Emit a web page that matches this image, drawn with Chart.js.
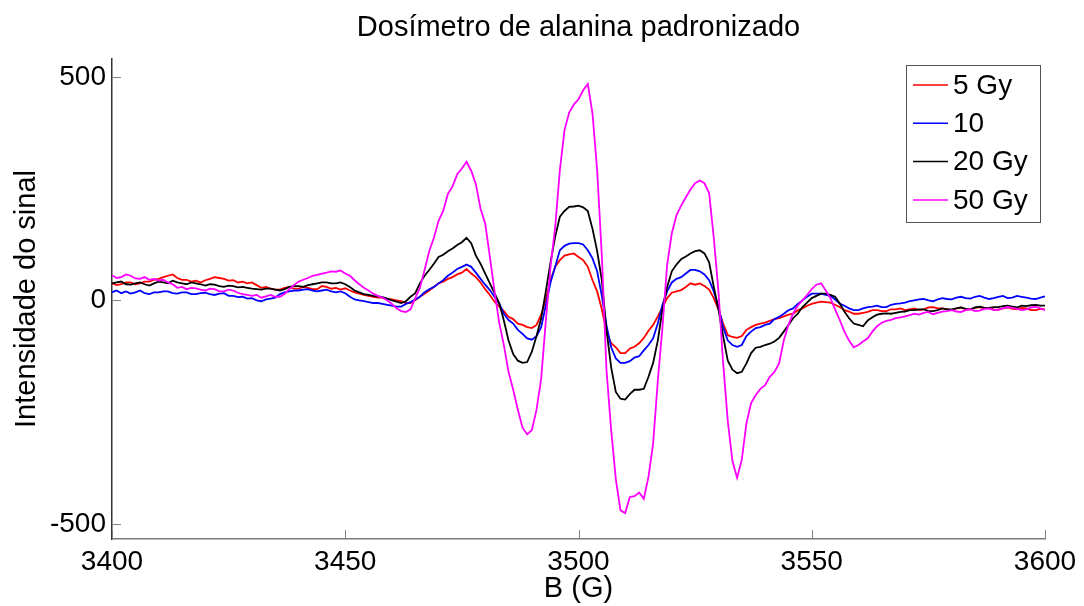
<!DOCTYPE html>
<html>
<head>
<meta charset="utf-8">
<script src="https://cdn.jsdelivr.net/npm/chart.js@4/dist/chart.umd.min.js"></script>
<style>
  html, body { margin: 0; padding: 0; background: #fff; }
  #wrap { width: 1084px; height: 606px; }
</style>
</head>
<body>
<div id="wrap"><canvas id="epr" width="1084" height="606"></canvas></div>
<script>
// EPR spectra of the alanine dosimeter (1 G steps)
const field = [
  3400, 3401, 3402, 3403, 3404, 3405, 3406, 3407, 3408, 3409,
  3410, 3411, 3412, 3413, 3414, 3415, 3416, 3417, 3418, 3419,
  3420, 3421, 3422, 3423, 3424, 3425, 3426, 3427, 3428, 3429,
  3430, 3431, 3432, 3433, 3434, 3435, 3436, 3437, 3438, 3439,
  3440, 3441, 3442, 3443, 3444, 3445, 3446, 3447, 3448, 3449,
  3450, 3451, 3452, 3453, 3454, 3455, 3456, 3457, 3458, 3459,
  3460, 3461, 3462, 3463, 3464, 3465, 3466, 3467, 3468, 3469,
  3470, 3471, 3472, 3473, 3474, 3475, 3476, 3477, 3478, 3479,
  3480, 3481, 3482, 3483, 3484, 3485, 3486, 3487, 3488, 3489,
  3490, 3491, 3492, 3493, 3494, 3495, 3496, 3497, 3498, 3499,
  3500, 3501, 3502, 3503, 3504, 3505, 3506, 3507, 3508, 3509,
  3510, 3511, 3512, 3513, 3514, 3515, 3516, 3517, 3518, 3519,
  3520, 3521, 3522, 3523, 3524, 3525, 3526, 3527, 3528, 3529,
  3530, 3531, 3532, 3533, 3534, 3535, 3536, 3537, 3538, 3539,
  3540, 3541, 3542, 3543, 3544, 3545, 3546, 3547, 3548, 3549,
  3550, 3551, 3552, 3553, 3554, 3555, 3556, 3557, 3558, 3559,
  3560, 3561, 3562, 3563, 3564, 3565, 3566, 3567, 3568, 3569,
  3570, 3571, 3572, 3573, 3574, 3575, 3576, 3577, 3578, 3579,
  3580, 3581, 3582, 3583, 3584, 3585, 3586, 3587, 3588, 3589,
  3590, 3591, 3592, 3593, 3594, 3595, 3596, 3597, 3598, 3599,
  3600
];
const dose5 = [
  38, 34, 36, 40, 40, 36, 38, 42, 42, 46,
  48, 52, 55, 58, 50, 46, 46, 42, 44, 40,
  45, 48, 52, 50, 48, 44, 45, 40, 42, 38,
  40, 34, 28, 30, 26, 24, 24, 28, 30, 26,
  26, 30, 28, 25, 25, 32, 30, 26, 28, 24,
  27, 22, 18, 15, 12, 10, 8, 6, 6, 3,
  2, 0, -2, -6, -6, 0, 8, 15, 22, 30,
  38, 42, 48, 52, 58, 62, 70, 60, 52, 40,
  25, 12, -3, -14, -24, -37, -42, -52, -55, -60,
  -62, -55, -32, 2, 45, 75, 90, 100, 103, 105,
  97, 90, 75, 45, 20, -20, -70, -96, -105, -118,
  -118, -108, -104, -96, -84, -68, -55, -36, -15, 5,
  17, 20, 23, 30, 38, 35, 38, 32, 24, 5,
  -20, -52, -78, -82, -84, -80, -66, -60, -55, -52,
  -50, -46, -42, -40, -36, -32, -30, -22, -18, -12,
  -8, -5, -3, -4, -5, -10, -15, -22, -25, -30,
  -30, -28, -26, -22, -22, -24, -24, -20, -20, -18,
  -22, -20, -18, -22, -20, -16, -15, -18, -18, -20,
  -22, -18, -16, -20, -20, -17, -15, -18, -18, -20,
  -21, -18, -16, -19, -20, -17, -18, -22, -22, -19,
  -20
];
const dose10 = [
  18, 22, 16, 20, 15, 18, 22, 16, 14, 18,
  18, 20, 20, 16, 15, 18, 18, 14, 14, 16,
  17, 14, 12, 15, 16, 10, 10, 7, 8, 4,
  5, 0, -2, 2, 4, 6, 14, 18, 20, 22,
  22, 24, 25, 22, 20, 22, 24, 20, 18, 20,
  16, 8, 2, 0, -2, -4, -6, -6, -8, -10,
  -12, -14, -14, -8, -4, 2, 8, 18, 25, 30,
  38, 45, 55, 62, 70, 75, 80, 75, 62, 48,
  35, 23, 8, -7, -30, -44, -52, -66, -75, -85,
  -88, -80, -60, -11, 40, 75, 112, 122, 127, 128,
  128, 125, 112, 94, 65, 10, -56, -105, -130, -140,
  -140, -136, -128, -125, -112, -100, -85, -52, -10, 20,
  40, 48, 52, 60, 68, 68, 65, 58, 45, 20,
  -15, -60, -90, -100, -104, -100, -80, -70, -62, -60,
  -55, -52, -42, -37, -30, -22, -18, -8, 0, 8,
  15, 15, 15, 12, 10, 2, -7, -12, -18, -22,
  -22, -18, -15, -14, -12, -15, -15, -10, -8, -7,
  -5, -2, 0, 2, 3, 0, -2, 2, 5, 3,
  2, 6, 8, 5, 4, 8, 10, 6, 3, 5,
  8, 10, 5, 6, 10, 8, 6, 4, 3, 6,
  9
];
const dose20 = [
  38, 40, 42, 36, 35, 38, 40, 36, 33, 38,
  42, 40, 38, 44, 40, 38, 36, 40, 38, 36,
  33, 36, 35, 32, 30, 33, 32, 29, 30, 28,
  26, 25, 24, 26, 26, 24, 22, 25, 30, 32,
  32, 30, 34, 36, 38, 40, 40, 38, 38, 40,
  36, 30, 22, 18, 14, 12, 10, 9, 7, 4,
  0, -3, -6, -2, 8, 16, 38, 55, 68, 82,
  97, 102, 110, 116, 124, 130, 140, 128, 100, 82,
  60, 38, 16, -6, -45, -90, -120, -135, -140, -138,
  -115, -80, -40, 20, 85, 142, 187, 200, 209, 210,
  212, 208, 200, 160, 110, 45, -66, -150, -205, -220,
  -222, -210, -200, -200, -198, -171, -140, -90, -20, 30,
  65, 80, 92, 98, 105, 110, 112, 105, 85, 30,
  -20, -80, -135, -155, -163, -160, -141, -118, -106, -104,
  -100, -97, -92, -84, -70, -55, -40, -30, -15, -5,
  5, 10, 15, 15, 12, 8, -7, -25, -40, -52,
  -55, -58, -45, -38, -32, -30, -29, -30, -28, -26,
  -25, -22, -22, -20, -20, -24, -24, -22, -18, -20,
  -20, -18, -16, -19, -20, -16, -14, -17, -17, -15,
  -15, -13, -12, -14, -16, -12, -13, -11, -10, -12,
  -12
];
const dose50 = [
  56, 50, 52, 58, 55, 49, 48, 52, 46, 48,
  44, 46, 40, 36, 28, 30, 25, 28, 27, 24,
  22, 26, 25, 20, 20, 24, 22, 17, 14, 12,
  10, 12, 6, 9, 12, 8, 8, 14, 25, 34,
  42, 46, 50, 55, 57, 60, 62, 65, 64, 67,
  60, 55, 45, 36, 28, 22, 15, 10, 6, 0,
  -8, -18, -24, -26, -20, 5, 28, 68, 110, 140,
  178, 200, 238, 255, 282, 295, 310, 290, 260, 205,
  172, 97, 20, -50, -100, -160, -200, -245, -285, -300,
  -290, -245, -175, -45, 75, 164, 291, 381, 420, 438,
  450, 470, 484, 418, 291, 100, -156, -290, -400, -470,
  -476, -440, -438, -430, -444, -395, -320, -180, -60, 80,
  150, 190, 212, 230, 248, 262, 268, 262, 240, 140,
  20, -140, -270, -360, -397, -357, -275, -230, -212, -198,
  -190, -171, -160, -141, -90, -55, -29, -12, 0, 12,
  25, 35, 38, 22, 5, -20, -44, -70, -90, -105,
  -100, -92, -85, -70, -58, -50, -46, -44, -40, -38,
  -36, -33, -30, -32, -28, -26, -31, -28, -25, -24,
  -22, -25, -26, -22, -20, -24, -23, -19, -18, -22,
  -21, -18, -15, -17, -19, -22, -20, -16, -14, -18,
  -22
];
const seriesLabels = ['5 Gy', '10', '20 Gy', '50 Gy'];
const seriesColors = ['#ff0000', '#0000ff', '#000000', '#ff00ff'];
const xTicks = [3400, 3450, 3500, 3550, 3600];
const yTicks = [-500, 0, 500];

const FONT = "'Liberation Sans', Arial, sans-serif";

function pts(vals) {
  return field.map((b, i) => ({ x: b, y: vals[i] }));
}

// MATLAB-style inward ticks, title and boxed legend
const decorations = {
  id: 'decorations',
  afterDraw(chart) {
    const ctx = chart.ctx;
    const xs = chart.scales.x, ys = chart.scales.y;
    const area = chart.chartArea;
    ctx.save();
    ctx.strokeStyle = '#808080';
    ctx.lineWidth = 1;
    xTicks.forEach(v => {
      const px = Math.round(xs.getPixelForValue(v)) + 0.5;
      ctx.beginPath();
      ctx.moveTo(px, area.bottom);
      ctx.lineTo(px, area.bottom - 9);
      ctx.stroke();
    });
    yTicks.forEach(v => {
      const py = Math.round(ys.getPixelForValue(v)) + 0.5;
      ctx.beginPath();
      ctx.moveTo(area.left, py);
      ctx.lineTo(area.left + 9, py);
      ctx.stroke();
    });

    // title
    ctx.fillStyle = '#000';
    ctx.font = '29px ' + FONT;
    ctx.textAlign = 'center';
    ctx.textBaseline = 'middle';
    ctx.fillText('Dosímetro de alanina padronizado', (area.left + area.right) / 2, 28);

    // legend
    const lx = 906.5, ly = 65.5, lw = 134, lh = 157;
    ctx.fillStyle = '#fff';
    ctx.fillRect(lx, ly, lw, lh);
    ctx.strokeStyle = '#555';
    ctx.strokeRect(lx, ly, lw, lh);
    ctx.font = '28px ' + FONT;
    ctx.textAlign = 'left';
    seriesLabels.forEach((lab, i) => {
      const cy = 85 + i * 38.3;
      ctx.strokeStyle = seriesColors[i];
      ctx.lineWidth = 1.5;
      ctx.beginPath();
      ctx.moveTo(913, cy);
      ctx.lineTo(948, cy);
      ctx.stroke();
      ctx.fillStyle = '#000';
      ctx.fillText(lab, 953, cy + 1);
    });
    ctx.restore();
  }
};

const series = [dose5, dose10, dose20, dose50];
new Chart(document.getElementById('epr'), {
  type: 'line',
  data: {
    datasets: series.map((vals, i) => ({
      label: seriesLabels[i],
      data: pts(vals),
      borderColor: seriesColors[i],
      borderWidth: 1.8,
      pointRadius: 0,
      tension: 0,
      fill: false,
      order: 4 - i
    }))
  },
  options: {
    responsive: false,
    animation: false,
    devicePixelRatio: 1,
    layout: { padding: { left: 0, right: 39, top: 59, bottom: 0 } },
    plugins: { legend: { display: false }, tooltip: { enabled: false }, title: { display: false } },
    scales: {
      x: {
        type: 'linear',
        min: 3400,
        max: 3600,
        afterBuildTicks: s => { s.ticks = xTicks.map(v => ({ value: v })); },
        afterFit: s => { s.height = 67; },
        ticks: { font: { family: FONT, size: 28 }, color: '#000', padding: 6, maxRotation: 0, autoSkip: false, callback: v => String(v) },
        grid: { display: false, drawTicks: false },
        border: { display: true, color: '#7a7a7a', width: 1.5 },
        title: { display: true, text: 'B (G)', color: '#000', font: { family: FONT, size: 29 }, padding: { top: 0, bottom: 0 } }
      },
      y: {
        min: -534,
        max: 540,
        afterBuildTicks: s => { s.ticks = yTicks.map(v => ({ value: v })); },
        afterFit: s => { s.width = 112; },
        ticks: { font: { family: FONT, size: 28 }, color: '#000', padding: 6, callback: v => String(v) },
        grid: { display: false, drawTicks: false },
        border: { display: true, color: '#333', width: 1.5 },
        title: { display: true, text: 'Intensidade do sinal', color: '#000', font: { family: FONT, size: 29 }, padding: { top: 10, bottom: 0 } }
      }
    }
  },
  plugins: [decorations]
});
</script>
</body>
</html>
